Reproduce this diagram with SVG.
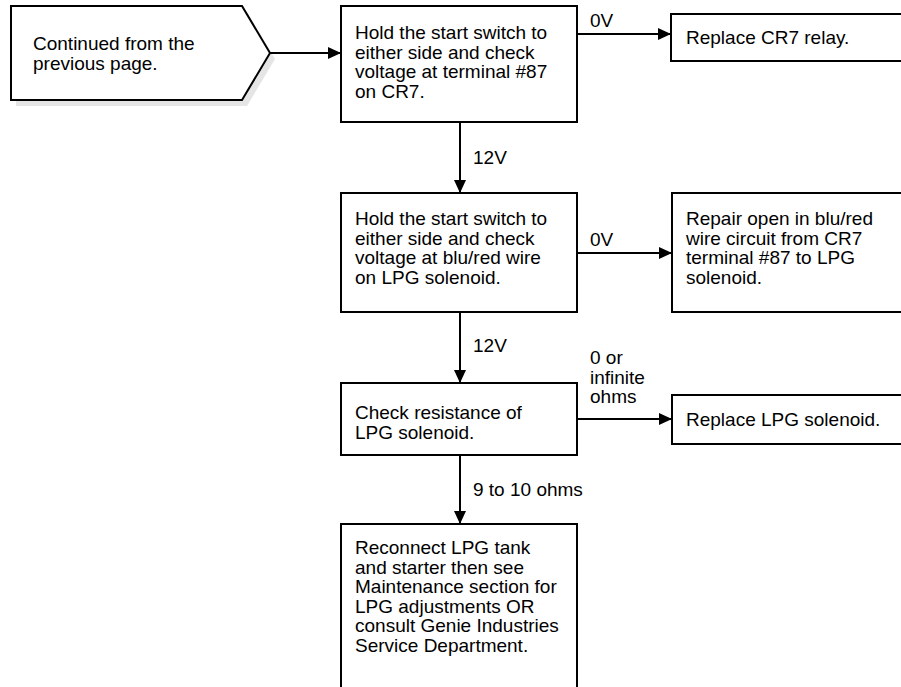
<svg xmlns="http://www.w3.org/2000/svg" width="901" height="687" viewBox="0 0 901 687">
<style>
.box{fill:#fff;stroke:#000;stroke-width:2}
.shadow{fill:#e5e5e5;stroke:none}
.t{font-family:"Liberation Sans",Arial,sans-serif;font-size:19px;fill:#000}
.c{stroke:#000;stroke-width:2;fill:none}
</style>
<defs>
<marker id="ah" markerUnits="userSpaceOnUse" markerWidth="14" markerHeight="12" refX="13" refY="6" orient="auto">
<path d="M0,0 L13,6 L0,12 Z" fill="#000"/>
</marker>
</defs>
<rect width="901" height="687" fill="#fff"/>
<g id="start">
<polygon class="shadow" points="16,12 247,12 275,59 247,106 16,106"/>
<polygon class="box" points="11,6 242,6 270,53 242,100 11,100"/>
<text class="t"><tspan x="33" y="50">Continued from the</tspan><tspan x="33" y="69.5">previous page.</tspan></text>
</g>
<g id="check87">
<rect class="box" x="341" y="6" width="236" height="116"/>
<text class="t"><tspan x="355" y="39">Hold the start switch to</tspan><tspan x="355" y="58.5">either side and check</tspan><tspan x="355" y="78">voltage at terminal #87</tspan><tspan x="355" y="97.5">on CR7.</tspan></text>
</g>
<g id="replaceCR7">
<rect class="box" x="671" y="14" width="240" height="47"/>
<text class="t" x="686" y="44">Replace CR7 relay.</text>
</g>
<g id="checkBluRed">
<rect class="box" x="341" y="193" width="236" height="119"/>
<text class="t"><tspan x="355" y="225">Hold the start switch to</tspan><tspan x="355" y="244.5">either side and check</tspan><tspan x="355" y="264">voltage at blu/red wire</tspan><tspan x="355" y="283.5">on LPG solenoid.</tspan></text>
</g>
<g id="repairOpen">
<rect class="box" x="672" y="193" width="240" height="119"/>
<text class="t"><tspan x="686" y="225">Repair open in blu/red</tspan><tspan x="686" y="244.5">wire circuit from CR7</tspan><tspan x="686" y="264">terminal #87 to LPG</tspan><tspan x="686" y="283.5">solenoid.</tspan></text>
</g>
<g id="checkResistance">
<rect class="box" x="341" y="383" width="236" height="72"/>
<text class="t"><tspan x="355" y="419">Check resistance of</tspan><tspan x="355" y="438.5">LPG solenoid.</tspan></text>
</g>
<g id="replaceLPG">
<rect class="box" x="672" y="395" width="240" height="49"/>
<text class="t" x="686" y="426">Replace LPG solenoid.</text>
</g>
<g id="reconnect">
<rect class="box" x="341" y="524" width="236" height="180"/>
<text class="t"><tspan x="355" y="554">Reconnect LPG tank</tspan><tspan x="355" y="573.5">and starter then see</tspan><tspan x="355" y="593">Maintenance section for</tspan><tspan x="355" y="612.5">LPG adjustments OR</tspan><tspan x="355" y="632">consult Genie Industries</tspan><tspan x="355" y="651.5">Service Department.</tspan></text>
</g>
<g id="connectors">
<line class="c" x1="270" y1="53" x2="341" y2="53" marker-end="url(#ah)"/>
<line class="c" x1="577" y1="34" x2="671" y2="34" marker-end="url(#ah)"/>
<text class="t" x="590" y="27">0V</text>
<line class="c" x1="460" y1="122" x2="460" y2="193" marker-end="url(#ah)"/>
<text class="t" x="473" y="164">12V</text>
<line class="c" x1="577" y1="253" x2="672" y2="253" marker-end="url(#ah)"/>
<text class="t" x="590" y="246">0V</text>
<line class="c" x1="460" y1="312" x2="460" y2="383" marker-end="url(#ah)"/>
<text class="t" x="473" y="352">12V</text>
<line class="c" x1="577" y1="419" x2="672" y2="419" marker-end="url(#ah)"/>
<text class="t"><tspan x="590" y="364">0 or</tspan><tspan x="590" y="383.5">infinite</tspan><tspan x="590" y="403">ohms</tspan></text>
<line class="c" x1="460" y1="455" x2="460" y2="524" marker-end="url(#ah)"/>
<text class="t" x="473" y="496">9 to 10 ohms</text>
</g>
</svg>
